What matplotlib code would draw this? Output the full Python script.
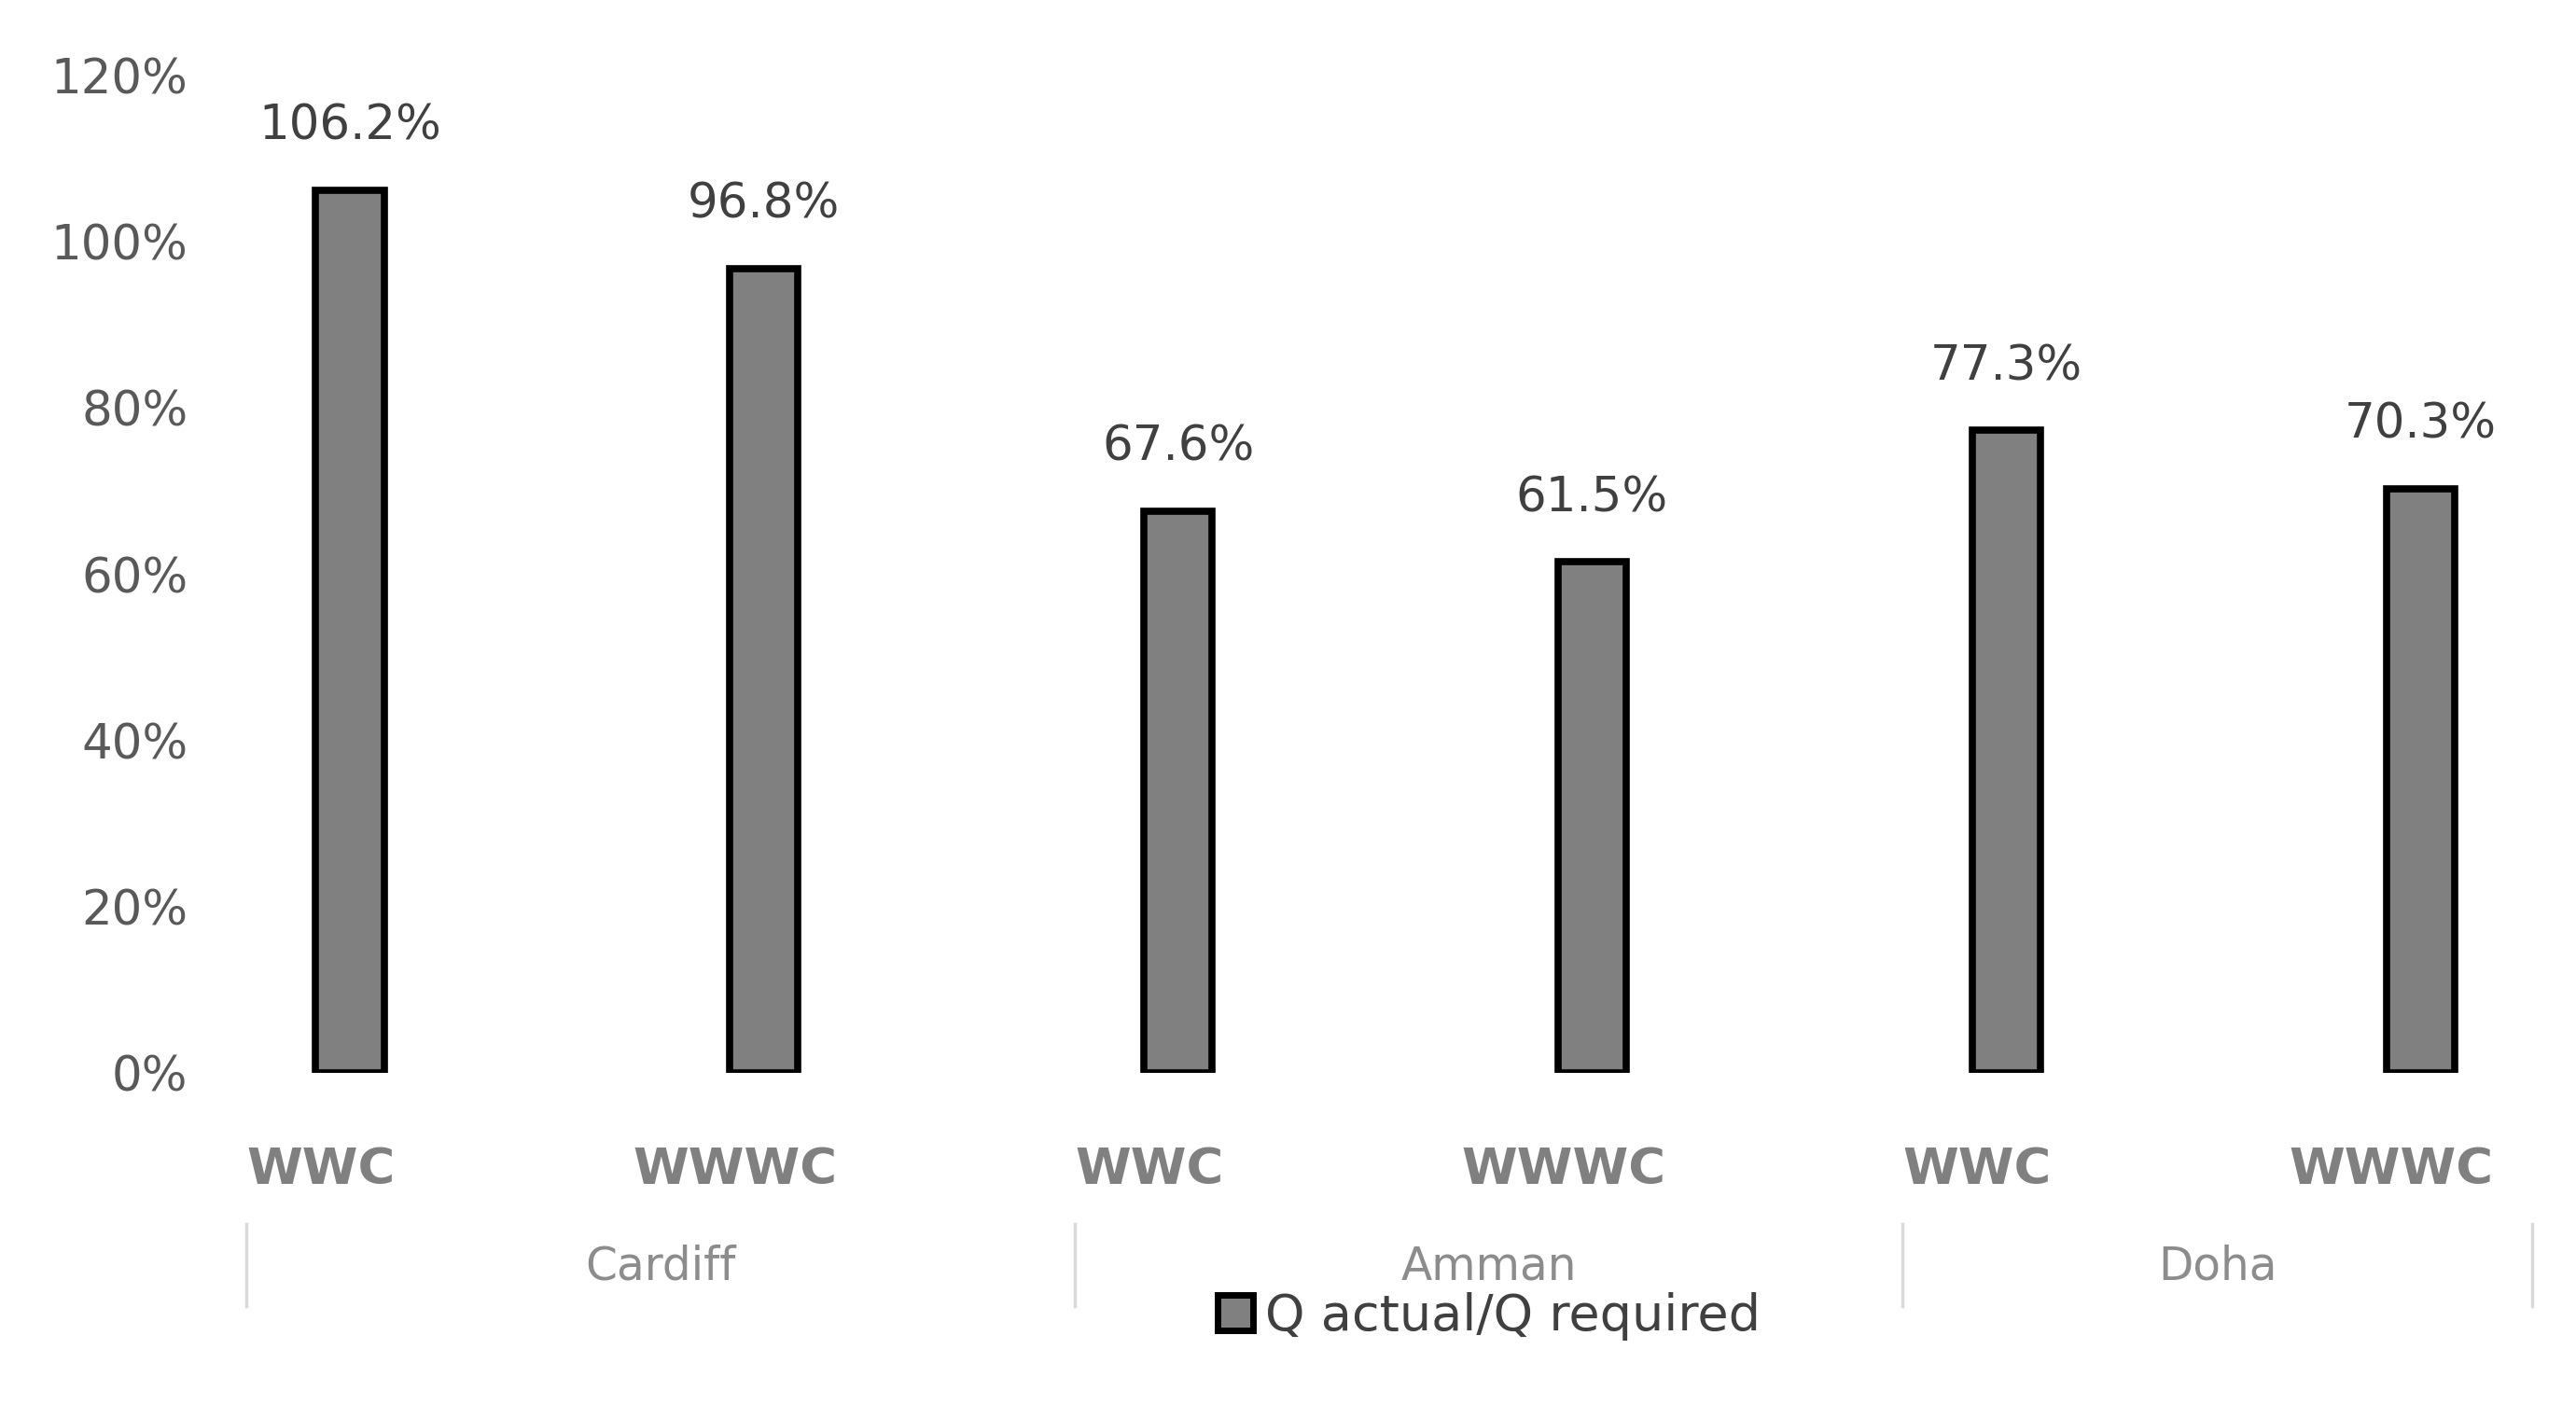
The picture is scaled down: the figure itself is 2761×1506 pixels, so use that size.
import matplotlib
matplotlib.use("Agg")
import matplotlib.pyplot as plt
import matplotlib.transforms as mtransforms
from matplotlib.patches import Patch

# ---- data ----
groups = ["Cardiff", "Amman", "Doha"]
sublabels = ["WWC", "WWWC", "WWC", "WWWC", "WWC", "WWWC"]
values = [106.2, 96.8, 67.6, 61.5, 77.3, 70.3]
yticks = [0, 20, 40, 60, 80, 100, 120]
series_name = "Q actual/Q required"

W, H = 2761, 1506
fig = plt.figure(figsize=(W / 100, H / 100), dpi=100)
fig.patch.set_facecolor("white")

def fy(px):
    return 1 - px / H

# axes: y 0 at px 1150, 120 at px 81; x from px 153 to 2714
ax = fig.add_axes([153 / W, fy(1150), (2714 - 153) / W, (1150 - 81) / H])
x = list(range(len(values)))
bars = ax.bar(x, values, width=0.165, color="#808080", edgecolor="black",
              linewidth=5.5, zorder=3)
ax.set_xlim(-0.5, 5.27)
ax.set_ylim(0, 120)
ax.set_yticks(yticks)
ax.set_yticklabels([f"{v}%" for v in yticks], fontsize=37, color="#595959")
ax.tick_params(axis="y", length=0, pad=-35)
ax.set_xticks([])
for s in ax.spines.values():
    s.set_visible(False)

# data labels
for xi, v in zip(x, values):
    ax.annotate(f"{v:.1f}%", (xi, v), xytext=(0, 49), textcoords="offset points",
                ha="center", va="center", fontsize=37, color="#404040")

# multi-level category axis
trans = mtransforms.blended_transform_factory(ax.transData, fig.transFigure)
for xi, lab in zip(x, sublabels):
    fig.text(xi - 0.07, fy(1254), lab, transform=trans, ha="center", va="center",
             fontsize=39, fontweight="bold", color="#808080")

n_per = len(values) // len(groups)
seps = [g * n_per - 0.25 for g in range(len(groups))] + [ax.get_xlim()[1]]
for sx in seps:
    fig.add_artist(plt.Line2D([sx, sx], [fy(1312), fy(1400)], transform=trans,
                              color="#d9d9d9", linewidth=2.5))
for g, name in enumerate(groups):
    cx = (seps[g] + seps[g + 1]) / 2
    fig.text(cx, fy(1358), name, transform=trans, ha="center", va="center",
             fontsize=35, color="#8c8c8c")

# legend
handle = Patch(facecolor="#808080", edgecolor="black", linewidth=5)
fig.legend([handle], [series_name], loc="center",
           bbox_to_anchor=(1596 / W, fy(1411)), frameon=False,
           fontsize=39, handlelength=0.7, handleheight=0.7, handletextpad=0.25,
           labelcolor="#404040")

fig.savefig("out.png", dpi=100, facecolor="white")
